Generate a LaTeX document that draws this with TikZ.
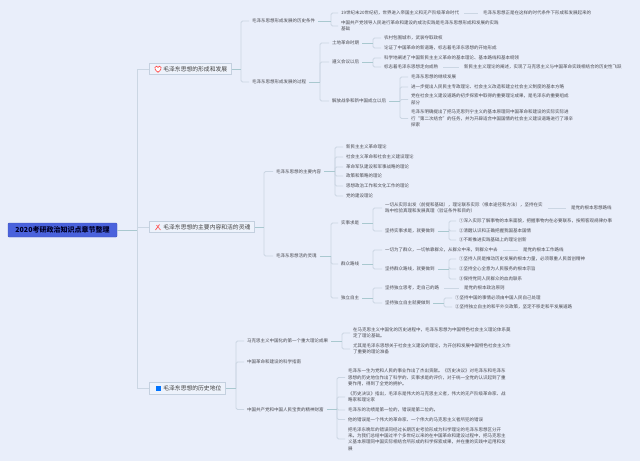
\documentclass[tikz,border=0pt]{standalone}
\usepackage{fontspec}
\setmainfont{Noto Sans CJK SC}
\usepackage{xcolor}
\definecolor{pagebg}{HTML}{E9EEFA}
\definecolor{rootfill}{HTML}{4A62DC}
\definecolor{boxfill}{HTML}{EDF2FB}
\definecolor{boxline}{HTML}{C4D0DF}
\definecolor{brkline}{HTML}{CBD6E3}
\definecolor{stubline}{HTML}{A9C8CF}
\definecolor{inktext}{HTML}{4A4A50}
\tikzset{
  x=1pt,y=-1pt,
  rootbox/.style={draw=rootfill!85!black,fill=rootfill,rounded corners=1pt,line width=0.4pt,text=black!85!blue,font=\fontsize{7}{8.4}\selectfont\bfseries,minimum width=109pt,minimum height=14pt,inner sep=0pt},
  topbox/.style={draw=boxline,fill=boxfill,line width=0.7pt,text=black!75,font=\fontsize{5.8}{7}\selectfont,minimum height=11.5pt,inner xsep=4pt,inner ysep=0pt,anchor=west},
  leaf/.style={text=inktext,font=\fontsize{4.5}{6.45}\selectfont,align=left,anchor=west,inner xsep=3pt,inner ysep=0pt},
  brk/.style={draw=brkline,line width=0.8pt,rounded corners=1.5pt},
  stub/.style={draw=stubline,line width=0.8pt},
  lnk/.style={draw=brkline,line width=0.8pt,shorten <=2pt,shorten >=2pt}
}
% name, text x, y, text (glyphs start at text x)
\newcommand{\TT}[4]{\node[leaf] (#1) at ({#2-3},#3) {#4};}
% parent, bracket x, children
\newcommand{\BR}[3]{%
  \foreach \cc in {#3} {\draw[brk] (#2,0 |- #1.east) -- (#2,0 |- \cc.west) -- (\cc.west);}%
  \draw[stub] (#1.east) -- (#2,0 |- #1.east);}
\begin{document}
\begin{tikzpicture}
\useasboundingbox (0,0) rectangle (640,461);
\fill[pagebg] (0,0) rectangle (640,461);
% root and main branches
\node[rootbox] (root) at (62.5,230) {2020考研政治知识点章节整理};
\node[topbox] (a) at (149,69) {\hspace*{10pt}毛泽东思想的形成和发展};
\node[topbox] (b) at (149,227) {\hspace*{10pt}毛泽东思想的主要内容和活的灵魂};
\node[topbox] (c) at (149,388.5) {\hspace*{10pt}毛泽东思想的历史地位};
\coordinate (trunk) at (137,230);
\draw[brk,line width=1pt] (trunk |- a.west) -- (trunk |- c.west);
\draw[brk,line width=1pt] (a.west) -- (trunk |- a.west);
\draw[brk,line width=1pt] (b.west) -- (trunk |- b.west);
\draw[brk,line width=1pt] (c.west) -- (trunk |- c.west);
\draw[stub,line width=1pt] (root.east) -- (trunk);
% icons
\draw[red!70!pink,line width=0.6pt,fill=white] (158,72.3) .. controls (155,70) and (154.6,68.6) .. (155,67.4) .. controls (155.6,65.8) and (157.6,65.8) .. (158,67.4) .. controls (158.4,65.8) and (160.4,65.8) .. (161,67.4) .. controls (161.4,68.6) and (161,70) .. (158,72.3) -- cycle;
\draw[red!60!pink,line width=0.7pt] (155.5,230) -- (159.5,224.5);
\draw[red!45!pink,line width=0.7pt] (160.5,230) -- (156.5,225);
\fill[blue!55!cyan] (155.5,385.5) rectangle (160.5,391);
% A
\TT{a1}{252}{21}{毛泽东思想形成发展的历史条件}
\TT{a2}{252}{82}{毛泽东思想形成发展的过程}
\BR{a}{241}{a1,a2}
\TT{a11}{341}{13}{19世纪末20世纪初，世界进入帝国主义和无产阶级革命时代}
\TT{a12}{341}{26}{中国共产党领导人民进行革命和建设的成功实践是毛泽东思想形成和发展的实践\\基础}
\BR{a1}{331}{a11,a12}
\TT{a11n}{483}{13}{毛泽东思想正是在这样的时代条件下形成和发展起来的}
\draw[lnk] (a11) -- (a11n);
\TT{a21}{332}{43}{土地革命时期}
\TT{a22}{332}{62}{遵义会议以后}
\TT{a23}{332}{101}{解放战争和新中国成立以后}
\BR{a2}{320}{a21,a22,a23}
\TT{a211}{384}{38}{农村包围城市，武装夺取政权}
\TT{a212}{384}{48}{论证了中国革命的新道路，标志着毛泽东思想的开始形成}
\BR{a21}{373}{a211,a212}
\TT{a221}{384}{58}{科学地阐述了中国新民主主义革命的基本理论、基本路线和基本纲领}
\TT{a222}{384}{67}{标志着毛泽东思想走向成熟}
\BR{a22}{373}{a221,a222}
\TT{a222n}{464}{67}{新民主主义理论的阐述，实现了马克思主义与中国革命实践相结合的历史性飞跃}
\draw[lnk] (a222) -- (a222n);
\TT{a231}{411}{77}{毛泽东思想的继续发展}
\TT{a232}{411}{87}{进一步提出人民民主专政理论、社会主义改造和建立社会主义制度的基本方略}
\TT{a233}{411}{99.5}{党在社会主义建设道路的初步探索中取得的重要理论成果，是毛泽东的重要组成\\部分}
\TT{a234}{411}{118.5}{毛泽东明确提出了把马克思列宁主义的基本原理同中国革命和建设的实际实际进\\行“第二次结合”的任务，并为开辟适合中国国情的社会主义建设道路进行了艰辛\\探索}
\BR{a23}{400}{a231,a232,a233,a234}
% B
\TT{b1}{276}{171.5}{毛泽东思想的主要内容}
\TT{b2}{276}{256}{毛泽东思想活的灵魂}
\BR{b}{264}{b1,b2}
\TT{b11}{346}{147}{新民主主义革命理论}
\TT{b12}{346}{157}{社会主义革命和社会主义建设理论}
\TT{b13}{346}{167}{革命军队建设和军事战略的理论}
\TT{b14}{346}{176}{政策和策略的理论}
\TT{b15}{346}{186}{思想政治工作和文化工作的理论}
\TT{b16}{346}{196}{党的建设理论}
\BR{b1}{335}{b11,b12,b13,b14,b15,b16}
\TT{b21}{341}{223}{实事求是}
\TT{b22}{341}{264}{群众路线}
\TT{b23}{341}{298}{独立自主}
\BR{b2}{331}{b21,b22,b23}
\TT{b211}{385}{208}{一切从实际出发（前提和基础），理论联系实际（根本途径和方法），坚持在实\\践中检验真理和发展真理（验证条件和目的）}
\TT{b212}{385}{231}{坚持实事求是，就要做到}
\BR{b21}{373}{b211,b212}
\TT{b211n}{571}{208}{是党的根本思想路线}
\draw[lnk] (b211) -- (b211n);
\TT{b2121}{459}{221}{①深入实际了解事物的本来面貌，把握事物内在必要联系，按照客观规律办事}
\TT{b2122}{459}{231}{②清醒认识和正确把握我国基本国情}
\TT{b2123}{459}{240}{③不断推进实践基础上的理论创新}
\BR{b212}{449}{b2121,b2122,b2123}
\TT{b221}{385}{250}{一切为了群众，一切依靠群众，从群众中来，到群众中去}
\TT{b222}{385}{269}{坚持群众路线，就要做到}
\BR{b22}{373}{b221,b222}
\TT{b221n}{523}{250}{是党的根本工作路线}
\draw[lnk] (b221) -- (b221n);
\TT{b2221}{459}{259}{①坚持人民是推动历史发展的根本力量，必须尊重人民首创精神}
\TT{b2222}{459}{269}{②坚持全心全意为人民服务的根本宗旨}
\TT{b2223}{459}{279}{③保持党同人民群众的血肉联系}
\BR{b222}{449}{b2221,b2222,b2223}
\TT{b231}{385}{288}{坚持独立思考，走自己的路}
\TT{b232}{385}{303}{坚持独立自主就要做到}
\BR{b23}{373}{b231,b232}
\TT{b231n}{464}{288}{是党的根本政治原则}
\draw[lnk] (b231) -- (b231n);
\TT{b2321}{455}{298}{①坚持中国的事情必须由中国人民自己处理}
\TT{b2322}{455}{307}{②坚持独立自主的和平外交政策，坚定不移走和平发展道路}
\BR{b232}{444}{b2321,b2322}
% C
\TT{c1}{247}{341}{马克思主义中国化的第一个重大理论成果}
\TT{c2}{247}{362}{中国革命和建设的科学指南}
\TT{c3}{247}{409.5}{中国共产党和中国人民宝贵的精神财富}
\BR{c}{236}{c1,c2,c3}
\TT{c11}{353}{333}{在马克思主义中国化的历史进程中，毛泽东思想为中国特色社会主义理论体系奠\\定了理论基础。}
\TT{c12}{353}{349}{尤其是毛泽东思想关于社会主义建设的理论，为开创和发展中国特色社会主义作\\了重要的理论准备}
\BR{c1}{342}{c11,c12}
\TT{c31}{348}{377.5}{毛泽东一生为党和人民的事业作出了杰出贡献。《历史决议》对毛泽东和毛泽东\\思想的历史地位作出了科学的、实事求是的评价，对于统一全党的认识起到了重\\要作用，得到了全党的拥护。}
\TT{c32}{348}{397}{《历史决议》指出，毛泽东是伟大的马克思主义者，伟大的无产阶级革命家、战\\略家和理论家}
\TT{c33}{348}{410}{毛泽东的功绩是第一位的，错误是第二位的。}
\TT{c34}{348}{419.5}{他的错误是一个伟大的革命家、一个伟大的马克思主义者所犯的错误}
\TT{c35}{348}{439}{把毛泽东晚年的错误同经过长期历史考验形成为科学理论的毛泽东思想区分开\\来。为我们总结中国过半个多世纪以来的在中国革命和建设过程中，把马克思主\\义基本原理同中国实际相结合所形成的科学探索成果，并在重的实践中运用和发\\展}
\BR{c3}{337}{c31,c32,c33,c34,c35}
\end{tikzpicture}
\end{document}
